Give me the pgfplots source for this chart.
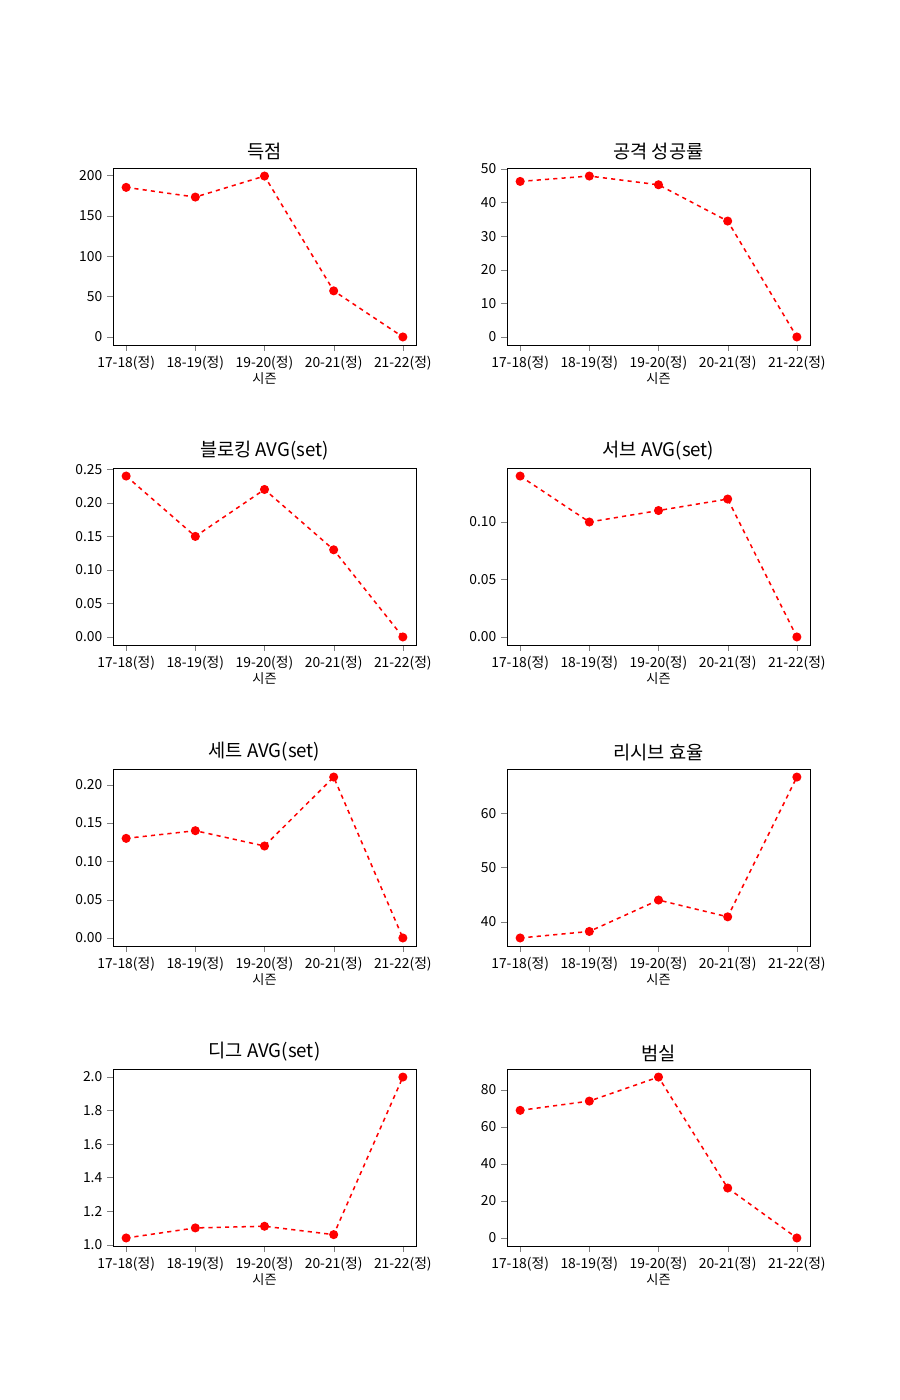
\documentclass[border=0pt]{standalone}
\usepackage{fontspec}
\setmainfont{Noto Sans CJK KR}
\usepackage{pgfplots}
\pgfplotsset{compat=1.18}
\pgfplotsset{every axis/.style={
  scale only axis, width=3.03in, height=1.77in, anchor=north west,
  xmin=-0.19, xmax=4.19, xtick={0,1,2,3,4},
  xticklabels={17-18(정),18-19(정),19-20(정),20-21(정),21-22(정)},
  enlarge y limits=0.05, tick align=outside, xtick pos=bottom, ytick pos=left,
  /pgf/number format/assume math mode=true,
  tick label style={font=\fontsize{10}{11}\selectfont},
  xticklabel style={inner xsep=0pt},
  xlabel={시즌}, xlabel style={font=\fontsize{9.5}{10}\selectfont, yshift=5pt},
  title style={font=\fontsize{13.5}{14}\selectfont, yshift=-4pt},
}}
\newcommand\chart[6]{%
\begin{axis}[at={(#1in,-#2in)}, title={#3}, ytick={#5}, yticklabels={#6}]
\addplot[red, dashed, line width=1.1pt, mark=*, mark options={solid, scale=1.35}] coordinates {#4};
\end{axis}}
\begin{document}
\begin{tikzpicture}
\path (0,0) rectangle (9in,-14in);
\chart{1.13}{1.68}{득점}{(0,185)(1,173)(2,199)(3,57)(4,0)}{0,50,100,150,200}{0,50,100,150,200}
\chart{5.07}{1.68}{공격 성공률}{(0,46.3)(1,47.9)(2,45.3)(3,34.5)(4,0)}{0,10,20,30,40,50}{0,10,20,30,40,50}
\chart{1.13}{4.68}{블로킹 AVG(set)}{(0,0.24)(1,0.15)(2,0.22)(3,0.13)(4,0)}{0,0.05,0.10,0.15,0.20,0.25}{0.00,0.05,0.10,0.15,0.20,0.25}
\chart{5.07}{4.68}{서브 AVG(set)}{(0,0.14)(1,0.10)(2,0.11)(3,0.12)(4,0)}{0,0.05,0.10}{0.00,0.05,0.10}
\chart{1.13}{7.69}{세트 AVG(set)}{(0,0.13)(1,0.14)(2,0.12)(3,0.21)(4,0)}{0,0.05,0.10,0.15,0.20}{0.00,0.05,0.10,0.15,0.20}
\chart{5.07}{7.69}{리시브 효율}{(0,37)(1,38.2)(2,44)(3,40.9)(4,66.7)}{40,50,60}{40,50,60}
\chart{1.13}{10.69}{디그 AVG(set)}{(0,1.04)(1,1.10)(2,1.11)(3,1.06)(4,2.0)}{1.0,1.2,1.4,1.6,1.8,2.0}{1.0,1.2,1.4,1.6,1.8,2.0}
\chart{5.07}{10.69}{범실}{(0,69)(1,74)(2,87)(3,27)(4,0)}{0,20,40,60,80}{0,20,40,60,80}
\end{tikzpicture}
\end{document}
